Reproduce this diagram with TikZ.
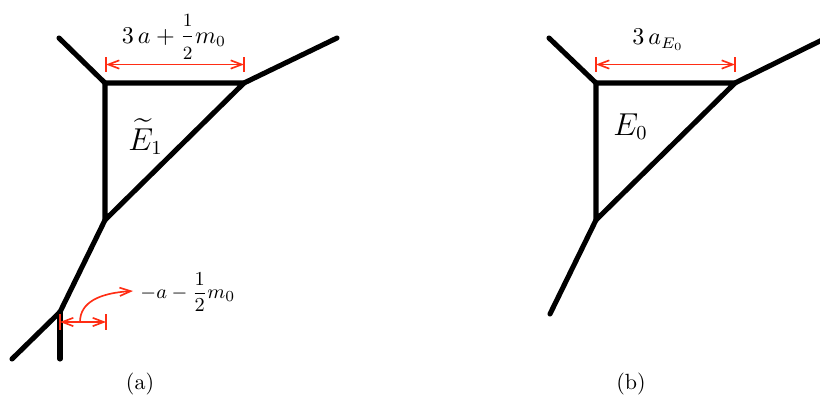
\documentclass[tikz,border=0pt]{standalone}
\usepackage{amsmath}
\usetikzlibrary{arrows.meta,calc}
\definecolor{dimred}{RGB}{255,45,20}
\newcommand{\fracdigit}[1]{\mbox{\fontsize{8.5}{10}\selectfont #1}}
\begin{document}
\begin{tikzpicture}[x=0.4545pt,y=-0.4545pt,
  edge/.style={line width=2.3pt,line cap=round},
  tri/.style={line width=2.3pt,line join=miter},
  dimline/.style={dimred,line width=0.75pt},
  dimtip/.tip={Straight Barb[length=5pt,width=3.8pt]},
  dimarrow/.style={dimline,dimtip-dimtip},
  curvearrow/.style={dimline,-dimtip},
  lbl/.style={inner sep=0pt},
  biglbl/.style={inner sep=0pt,font=\fontsize{13.3}{16}\selectfont}
]
\useasboundingbox (0,0) rectangle (820,400);

% ---------- panel (a) ----------
\coordinate (a1) at (105,83);
\coordinate (a2) at (244,83);
\coordinate (a3) at (105,220);
\coordinate (a4) at (60,312);
\coordinate (aTL) at (59,38);
\coordinate (aTR) at (337,38);
\coordinate (aBL) at (12,359);
\coordinate (aB) at (60,359);

\draw[tri] (a1) -- (a2) -- (a3) -- cycle;
\draw[edge] (aTL) -- (a1);
\draw[edge] (a2) -- (aTR);
\draw[edge] (a3) -- (a4);
\draw[edge] (a4) -- (aBL);
\draw[edge] (a4) -- (aB);

% top dimension
\coordinate (ad1) at (106,64.5);
\coordinate (ad2) at (244,64.5);
\draw[dimline] ($(ad1)+(0,-7.5)$) -- ($(ad1)+(0,7.5)$);
\draw[dimline] ($(ad2)+(0,-7.5)$) -- ($(ad2)+(0,7.5)$);
\draw[dimarrow] (ad1) -- (ad2);
\node[lbl,anchor=base,font=\fontsize{10.5}{12}\selectfont] (alab) at (174,43)
  {$3\,a+\dfrac{\fracdigit{1}}{\fracdigit{2}}m_0$};

\node[biglbl,anchor=base west] (aE) at (128,150) {$\widetilde{E}_1$};

% bottom dimension
\coordinate (bd1) at (60,322);
\coordinate (bd2) at (106,322);
\draw[dimline] ($(bd1)+(0,-8)$) -- ($(bd1)+(0,8)$);
\draw[dimline] ($(bd2)+(0,-8)$) -- ($(bd2)+(0,8)$);
\draw[dimarrow] (bd1) -- (bd2);
\coordinate (cs) at (80,322);
\coordinate (ce) at (133,291);
\draw[curvearrow] (cs) .. controls (80,302) and (100,293) .. (ce);
\node[lbl,anchor=base west,font=\fontsize{9.5}{11}\selectfont] (blab) at (140,298)
  {$-a-\dfrac{1}{2}m_0$};

\node[anchor=base] (capa) at (140,389) {(a)};

% ---------- panel (b) ----------
\coordinate (b1) at (596,83);
\coordinate (b2) at (735,83);
\coordinate (b3) at (596,220);
\coordinate (b4) at (550,314);
\coordinate (bTL) at (549,38);
\coordinate (bTR) at (822,40);

\draw[tri] (b1) -- (b2) -- (b3) -- cycle;
\draw[edge] (bTL) -- (b1);
\draw[edge] (b2) -- (bTR);
\draw[edge] (b3) -- (b4);

\coordinate (bdd1) at (596,64.5);
\coordinate (bdd2) at (735,64.5);
\draw[dimline] ($(bdd1)+(0,-7.5)$) -- ($(bdd1)+(0,7.5)$);
\draw[dimline] ($(bdd2)+(0,-7.5)$) -- ($(bdd2)+(0,7.5)$);
\draw[dimarrow] (bdd1) -- (bdd2);
\node[lbl,anchor=base,font=\fontsize{10.5}{12}\selectfont] (blab2) at (658,45) {$3\,a_{E_0}$};

\node[biglbl,anchor=base west] (bE) at (613,135) {$E_0$};

\node[anchor=base] (capb) at (631,389) {(b)};
\end{tikzpicture}
\end{document}
